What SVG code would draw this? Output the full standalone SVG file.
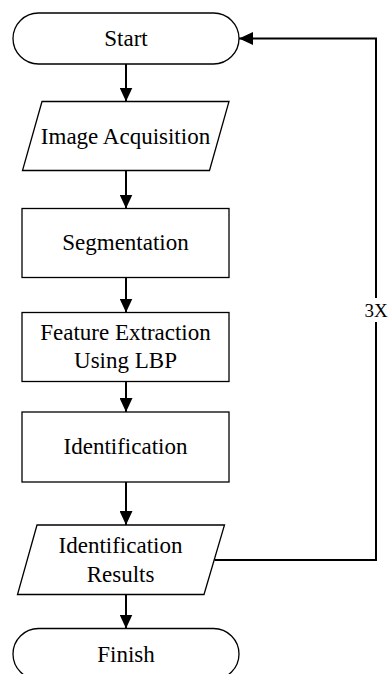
<svg xmlns="http://www.w3.org/2000/svg" width="388" height="674" viewBox="0 0 388 674">
<style>
.shape{fill:#fff;stroke:#000;stroke-width:1.3}
text{font-family:'Liberation Serif','Times New Roman',Times,serif;fill:#000;text-anchor:middle}
.t{font-size:23px}
.lbl{font-size:19px}
.conn{fill:none;stroke:#000;stroke-width:2}
</style>
<defs>
<marker id="arr" markerUnits="userSpaceOnUse" markerWidth="14" markerHeight="13" refX="14" refY="6.5" orient="auto">
<path d="M0,0 L14,6.5 L0,13 Z" fill="#000"/>
</marker>
</defs>
<rect width="388" height="674" fill="#fff"/>
<g id="connectors">
<line class="conn" x1="126" y1="64" x2="126" y2="101.5" marker-end="url(#arr)"/>
<line class="conn" x1="126" y1="170.5" x2="126" y2="208.5" marker-end="url(#arr)"/>
<line class="conn" x1="126" y1="277.5" x2="126" y2="312.5" marker-end="url(#arr)"/>
<line class="conn" x1="126" y1="381.5" x2="126" y2="412" marker-end="url(#arr)"/>
<line class="conn" x1="126" y1="482" x2="126" y2="525" marker-end="url(#arr)"/>
<line class="conn" x1="126" y1="594.5" x2="126" y2="628.5" marker-end="url(#arr)"/>
<path class="conn" d="M214.5,560 H376 V38.5 H239" marker-end="url(#arr)"/>
<rect x="364" y="298" width="24" height="24" fill="#fff"/>
<text class="lbl" x="376" y="317" font-family="Liberation Serif, serif">3X</text>
</g>
<g id="start">
<rect class="shape" x="13" y="13" width="226" height="51" rx="25.5" ry="25.5"/>
<text class="t" x="126" y="46" font-family="Liberation Serif, serif">Start</text>
</g>
<g id="acquisition">
<polygon class="shape" points="42,101.5 229,101.5 209.5,170.5 22.5,170.5"/>
<text class="t" x="125.5" y="143.5" font-family="Liberation Serif, serif">Image Acquisition</text>
</g>
<g id="segmentation">
<rect class="shape" x="22" y="208.5" width="207" height="69"/>
<text class="t" x="125.5" y="250" font-family="Liberation Serif, serif">Segmentation</text>
</g>
<g id="feature">
<rect class="shape" x="22" y="312.5" width="207" height="69"/>
<text class="t" x="125.5" y="339.5" font-family="Liberation Serif, serif">Feature Extraction</text>
<text class="t" x="125.5" y="367.7" font-family="Liberation Serif, serif">Using LBP</text>
</g>
<g id="identification">
<rect class="shape" x="22" y="412" width="207" height="70"/>
<text class="t" x="125.5" y="453.5" font-family="Liberation Serif, serif">Identification</text>
</g>
<g id="results">
<polygon class="shape" points="37,525 224.5,525 204,594.5 17.5,594.5"/>
<text class="t" x="120.5" y="553.3" font-family="Liberation Serif, serif">Identification</text>
<text class="t" x="120.5" y="581.7" font-family="Liberation Serif, serif">Results</text>
</g>
<g id="finish">
<rect class="shape" x="13" y="628.5" width="226" height="51" rx="25.5" ry="25.5"/>
<text class="t" x="126" y="661.5" font-family="Liberation Serif, serif">Finish</text>
</g>
</svg>
